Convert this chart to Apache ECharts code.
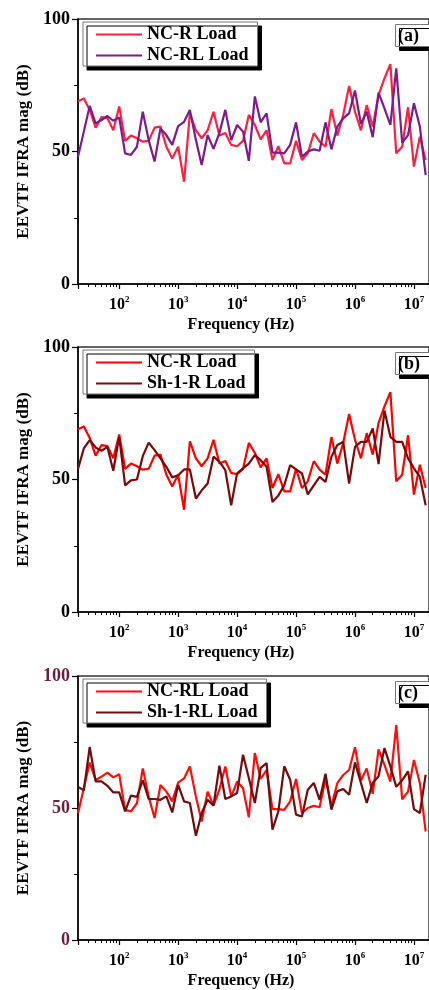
<!DOCTYPE html>
<html>
<head>
<meta charset="utf-8">
<script src="https://cdn.jsdelivr.net/npm/echarts@6/dist/echarts.min.js"></script>
<style>
  html, body { margin: 0; padding: 0; background: #fff; }
  #chart { width: 429px; height: 990px; }
</style>
</head>
<body>
<div id="chart"></div>
<script>
// frequency points (Hz), 10 per decade
const freqHz = [20, 25.1, 31.6, 39.8, 50.1, 63.1, 79.4,
  100, 126, 158, 200, 251, 316, 398, 501, 631, 794,
  1e3, 1.26e3, 1.58e3, 2e3, 2.51e3, 3.16e3, 3.98e3, 5.01e3, 6.31e3, 7.94e3,
  1e4, 1.26e4, 1.58e4, 2e4, 2.51e4, 3.16e4, 3.98e4, 5.01e4, 6.31e4, 7.94e4,
  1e5, 1.26e5, 1.58e5, 2e5, 2.51e5, 3.16e5, 3.98e5, 5.01e5, 6.31e5, 7.94e5,
  1e6, 1.26e6, 1.58e6, 2e6, 2.51e6, 3.16e6, 3.98e6, 5.01e6, 6.31e6, 7.94e6,
  1e7, 1.26e7, 1.58e7];

// EEVTF magnitude (dB)
const ncR = [69, 70, 65.7, 59, 63, 62.6, 58, 67, 54, 56,
  55, 53.7, 54, 59, 59.4, 51.8, 47.4, 51.8, 38.6, 64.4,
  58, 55, 58, 65, 56, 57, 52.5, 52, 54, 63.8,
  60, 54.6, 58, 46.8, 52, 45.5, 45.5, 54, 46.8, 49.3,
  56.9, 53.7, 51.8, 66, 56, 63.8, 74.7, 65, 58, 67.5,
  59.4, 71.3, 77.6, 83, 49.3, 51.8, 66.7, 44.3, 55.6, 46.8];
const ncRL = [48, 57.5, 67.2, 60.6, 61.9, 63.4, 61.6, 62.8, 49.3, 48.7,
  51.8, 65, 54.3, 46.2, 58.7, 56.2, 52.5, 59.6, 61.2, 65.7,
  54.3, 44.9, 56.2, 51, 57, 65.7, 54.3, 60, 57.5, 46.5,
  70.8, 61, 64.4, 49.6, 49.6, 49.3, 52.5, 61, 48, 50,
  50.8, 50.3, 61, 50.8, 59.4, 62.5, 64.4, 73, 60.4, 65,
  55.4, 72.2, 66.3, 60, 81.4, 53.3, 56.2, 68.2, 59.4, 41.1];
const sh1R = [54, 61.7, 64.9, 62.1, 60.8, 62.3, 53.3, 66.1, 47.8, 49.7,
  50, 58.8, 63.9, 61.1, 58, 54.8, 50.8, 51.6, 53.8, 53.8,
  42.8, 45.9, 48.5, 58.6, 56.7, 53.5, 40.3, 52.3, 54.2, 56,
  59.2, 57.3, 54.8, 41.5, 44, 47.8, 55.4, 53.8, 52.3, 44.4,
  47.8, 51, 49.1, 58.6, 63, 64.2, 48.5, 62.3, 64.2, 64.2,
  69.3, 55.8, 76, 66.1, 64.2, 64.2, 58, 54.2, 51, 40.3];
const sh1RL = [58, 56.7, 73.1, 60.1, 60.1, 58.4, 55.9, 55.9, 48.7, 54.7,
  54.2, 60.5, 53.4, 53.4, 53.1, 54.4, 48.3, 58.8, 52.5, 51.9,
  39.5, 48.1, 53.1, 50.9, 66, 53.4, 54.4, 55.7, 70.2, 61.4,
  51.9, 65.1, 67, 41.8, 48.7, 65.8, 60.7, 47.5, 46.8, 56.9,
  59.5, 53.1, 63, 49.4, 56.3, 57.2, 55, 67.3, 59.5, 51.9,
  59.5, 62, 72.7, 65.8, 58, 60.5, 63.9, 49.6, 48.1, 62.6];

const panelTags = ['(a)', '(b)', '(c)'];
const panelNames = [['NC-R Load', 'NC-RL Load'], ['NC-R Load', 'Sh-1-R Load'], ['NC-RL Load', 'Sh-1-RL Load']];
const panelData = [[ncR, ncRL], [ncR, sh1R], [ncRL, sh1RL]];
const panelColors = [['#ff1f40', '#7d1a8c'], ['#ff0000', '#7a0a0a'], ['#ff0d0d', '#700c0c']];
const yTicks = [0, 50, 100];
const yLabelColors = ['#000', '#000', '#6b1f3f'];

const FONT = 'Liberation Serif';
const panelTop = [19, 347, 676];
const panelH = 265;

const chart = echarts.init(document.getElementById('chart'));

const grid = [], xAxis = [], yAxis = [], series = [], legend = [], title = [];

panelTop.forEach((top, i) => {
  grid.push({
    left: 78, right: -3, top: top, height: panelH,
    show: true, borderColor: '#333', borderWidth: 1.5
  });
  xAxis.push({
    type: 'log', logBase: 10, gridIndex: i,
    min: 20, max: 1.8e7,
    name: 'Frequency (Hz)', nameLocation: 'middle', nameGap: 33,
    nameTextStyle: { fontFamily: FONT, fontWeight: 'bold', fontSize: 16, color: '#000', padding: [0, 25, 0, 0] },
    axisLine: { lineStyle: { color: '#000', width: 1.5 } },
    axisTick: { length: 5, lineStyle: { color: '#000', width: 1.2 } },
    minorTick: { show: true, splitNumber: 9, length: 3, lineStyle: { color: '#000', width: 1 } },
    splitLine: { show: false },
    axisLabel: {
      margin: 11, showMinLabel: false, showMaxLabel: false,
      formatter: function (v) {
        const e = Math.log10(v);
        if (Math.abs(e - Math.round(e)) > 1e-6) return '';
        return '10{s|' + Math.round(e) + '}';
      },
      fontFamily: FONT, fontWeight: 'bold', fontSize: 16, lineHeight: 20, color: '#000',
      rich: { s: { fontFamily: FONT, fontWeight: 'bold', fontSize: 9, lineHeight: 9, verticalAlign: 'top', color: '#000' } }
    }
  });
  yAxis.push({
    type: 'value', gridIndex: i, min: 0, max: 100, interval: 50,
    name: 'EEVTF IFRA mag (dB)', nameLocation: 'middle', nameGap: 44, nameRotate: 90,
    nameTextStyle: { fontFamily: FONT, fontWeight: 'bold', fontSize: 17, color: '#000' },
    axisLine: { show: true, lineStyle: { color: '#000', width: 1.5 } },
    axisTick: { show: true, length: 6, lineStyle: { color: '#000', width: 1.2 } },
    minorTick: { show: true, splitNumber: 2, length: 4, lineStyle: { color: '#000', width: 1 } },
    splitLine: { show: false },
    axisLabel: {
      margin: 8, fontFamily: FONT, fontWeight: 'bold', fontSize: 18, color: yLabelColors[i],
      customValues: yTicks
    }
  });
  panelNames[i].forEach((nm, j) => {
    series.push({
      name: nm, type: 'line', xAxisIndex: i, yAxisIndex: i,
      symbol: 'none', smooth: false,
      lineStyle: { width: 2.2, color: panelColors[i][j] },
      itemStyle: { color: panelColors[i][j] },
      data: freqHz.map((f, k) => [f, panelData[i][j][k]])
    });
  });
  legend.push({
    orient: 'vertical', left: 83, top: top + 3,
    padding: [3, 9, 1, 13], itemWidth: 46, itemHeight: 2, itemGap: 2,
    icon: 'rect',
    backgroundColor: '#fff', borderColor: '#777', borderWidth: 1,
    shadowColor: '#000', shadowBlur: 0, shadowOffsetX: 4, shadowOffsetY: 4,
    textStyle: { fontFamily: FONT, fontWeight: 'bold', fontSize: 18, lineHeight: 19, color: '#000' },
    data: panelNames[i].map((nm, j) => ({
      name: nm, icon: 'rect',
      itemStyle: { color: panelColors[i][j] }
    }))
  });
  title.push({
    text: panelTags[i], left: 395, top: top + 5,
    padding: [3, 12, 2, 3],
    backgroundColor: '#fff', borderColor: '#777', borderWidth: 1,
    shadowColor: '#000', shadowBlur: 0, shadowOffsetX: 4, shadowOffsetY: 4,
    textStyle: { fontFamily: FONT, fontWeight: 'bold', fontSize: 18, color: '#000' }
  });
});

chart.setOption({
  animation: false,
  backgroundColor: '#fff',
  title: title,
  legend: legend,
  grid: grid,
  xAxis: xAxis,
  yAxis: yAxis,
  series: series
});
</script>
</body>
</html>
